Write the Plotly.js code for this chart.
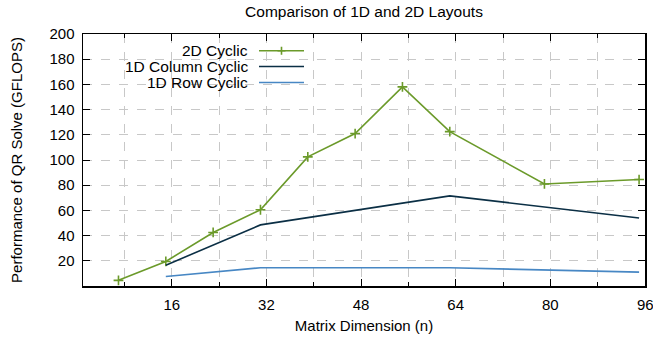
<!DOCTYPE html>
<html>
<head>
<meta charset="utf-8">
<script src="https://cdn.plot.ly/plotly-3.0.1.min.js"></script>
<style>html,body{margin:0;padding:0;background:#fff;overflow:hidden;}#chart{width:653px;height:341px;}</style>
</head>
<body>
<div id="chart"></div>
<script>
// Data
const seriesNames = ["2D Cyclic", "1D Column Cyclic", "1D Row Cyclic"];
const x2D = [7, 15, 23, 31, 39, 47, 55, 63, 79, 95];
const y2D = [4.5, 19.5, 42.5, 60.5, 102.5, 121, 158, 122.5, 81, 84.5];
const xCol = [15, 31, 63, 95];
const yCol = [16.5, 48.5, 71.5, 54];
const xRow = [15, 31, 63, 95];
const yRow = [7.5, 14.5, 14.5, 11];
const xTicks = [16, 32, 48, 64, 80, 96];
const yTicks = [20, 40, 60, 80, 100, 120, 140, 160, 180, 200];

const colors = ["#6b9a2a", "#0b2f45", "#4787c4"];
const font = "Liberation Sans, Arial, sans-serif";

const traces = [
  {x: x2D, y: y2D, name: seriesNames[0], mode: "lines+markers", type: "scatter",
   line: {color: colors[0], width: 1.6},
   marker: {symbol: "cross-thin-open", size: 7, line: {color: colors[0], width: 1.6}, color: colors[0]}},
  {x: xCol, y: yCol, name: seriesNames[1], mode: "lines", type: "scatter",
   line: {color: colors[1], width: 1.6}},
  {x: xRow, y: yRow, name: seriesNames[2], mode: "lines", type: "scatter",
   line: {color: colors[2], width: 1.6}}
];

// Manual legend (text right-aligned, sample on the right, as in the reference)
const L = 83, R = 645, T = 34, B = 286;
const px = v => (v - L) / (R - L);
const py = v => (B - v) / (B - T);
const legendRows = [50.7, 66.5, 82.5];
const annotations = [];
const shapes = [];
seriesNames.forEach((n, i) => {
  annotations.push({text: n, xref: "paper", yref: "paper", x: px(250), y: py(legendRows[i]),
    xanchor: "right", yanchor: "middle", showarrow: false, font: {family: font, size: 15.5, color: "#000"}});
  shapes.push({type: "line", xref: "paper", yref: "paper", x0: px(259), x1: px(304),
    y0: py(legendRows[i]), y1: py(legendRows[i]), line: {color: colors[i], width: 1.6}});
});
const mx = px(281.5), my = py(legendRows[0]);
const hx = 4 / (R - L), hy = 4 / (B - T);
shapes.push({type: "path", xref: "paper", yref: "paper",
  path: `M ${mx - hx},${my} L ${mx + hx},${my} M ${mx},${my - hy} L ${mx},${my + hy}`,
  line: {color: colors[0], width: 1.6}});

// Last x tick label sits at the very edge (partly cut off in the reference); Plotly would hide it, so draw it as text
const lastTick = xTicks[xTicks.length - 1];
annotations.push({text: String(lastTick), xref: "x", yref: "paper", x: lastTick, y: 0,
  xanchor: "center", yanchor: "top", yshift: -8, showarrow: false, font: {family: font, size: 15, color: "#000"}});

const layout = {
  width: 653, height: 341,
  margin: {l: L, r: 653 - R, t: T, b: 341 - B, pad: 0},
  paper_bgcolor: "#fff", plot_bgcolor: "#fff",
  showlegend: false,
  font: {family: font, size: 15, color: "#000"},
  title: {text: "Comparison of 1D and 2D Layouts", x: (L + R) / 2 / 653, xanchor: "center",
    y: 1 - 12 / 341, yref: "container", yanchor: "middle", font: {family: font, size: 15.5, color: "#000"}},
  xaxis: {
    range: [1, 96], tickmode: "array", tickvals: xTicks,
    ticktext: xTicks.map(v => v === lastTick ? "" : String(v)),
    ticks: "inside", ticklen: 7, tickwidth: 1, tickcolor: "#000", ticklabelstandoff: 4,
    showline: true, linecolor: "#000", linewidth: 1.5, mirror: "allticks",
    showgrid: true, gridcolor: "#c8c8c8", griddash: "dash", gridwidth: 1,
    zeroline: false,
    minor: {dtick: 8, tick0: 0, ticks: "inside", ticklen: 4, tickcolor: "#000", showgrid: true, gridcolor: "#c8c8c8", griddash: "dash"},
    title: {text: "Matrix Dimension (n)", font: {family: font, size: 15}, standoff: 9},
    automargin: false, tickfont: {family: font, size: 15}
  },
  yaxis: {
    range: [0, 200], tickmode: "array", tickvals: yTicks, ticktext: yTicks.map(String),
    ticks: "inside", ticklen: 7, tickwidth: 1, tickcolor: "#000", ticklabelstandoff: 4,
    showline: true, linecolor: "#000", linewidth: 1.5, mirror: "allticks",
    showgrid: true, gridcolor: "#c8c8c8", griddash: "dash", gridwidth: 1,
    zeroline: false,
    title: {text: "Performance of QR Solve (GFLOPS)", font: {family: font, size: 15}, standoff: 23},
    automargin: false, tickfont: {family: font, size: 15}
  },
  annotations: annotations,
  shapes: shapes
};

Plotly.newPlot("chart", traces, layout, {staticPlot: true, displayModeBar: false});
</script>
</body>
</html>
